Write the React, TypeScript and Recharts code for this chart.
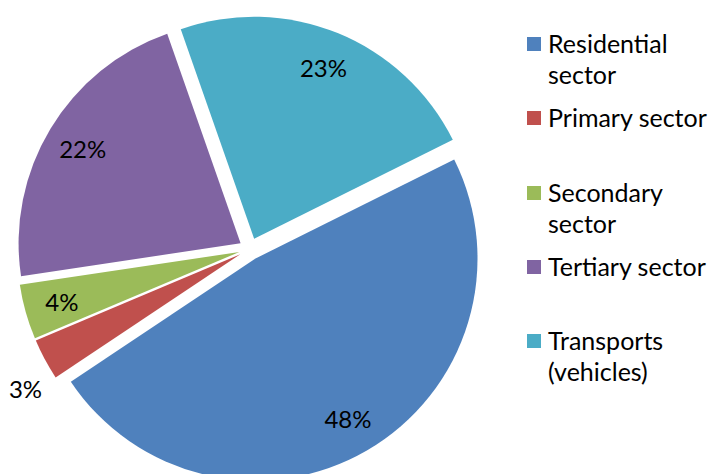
import React from "react";
import { PieChart, Pie, Cell, Sector, Legend } from "recharts";

const SECTORS = [
  "Residential sector",
  "Primary sector",
  "Secondary sector",
  "Tertiary sector",
  "Transports (vehicles)",
];
const SHARES = [48, 3, 4, 22, 23];
const COLORS = ["#4F81BD", "#C0504D", "#9BBB59", "#8064A2", "#4BACC6"];

const RADIAN = Math.PI / 180;
const EXPLODE = 11;
const FONT = "Lato, 'Open Sans', sans-serif";

const data = SECTORS.map((name, i) => ({ name, value: SHARES[i] }));

/** Exploded sector: shift each slice outward along its mid angle. */
function ExplodedSector(props: any) {
  const { cx, cy, midAngle } = props;
  const dx = EXPLODE * Math.cos(-midAngle * RADIAN);
  const dy = EXPLODE * Math.sin(-midAngle * RADIAN);
  return <Sector {...props} cx={cx + dx} cy={cy + dy} stroke="none" />;
}

function renderLabel(props: any) {
  const { cx, cy, midAngle, outerRadius, percent } = props;
  // small slices get their label outside the pie, like Excel's best fit
  const outside = percent < 0.035;
  const r = outside ? outerRadius * 1.19 : outerRadius * 0.88;
  const a = (outside ? midAngle + 3.5 : midAngle) * RADIAN;
  const x = cx + r * Math.cos(-a);
  const y = cy + r * Math.sin(-a);
  return (
    <text
      x={x}
      y={y}
      fill="#000"
      fontSize={24}
      fontFamily={FONT}
      textAnchor="middle"
      dominantBaseline="central"
    >
      {`${Math.round(percent * 100)}%`}
    </text>
  );
}

function LegendContent() {
  return (
    <div style={{ fontFamily: FONT, fontSize: 25, lineHeight: "31px", color: "#000" }}>
      {SECTORS.map((name, i) => (
        <div key={name} style={{ position: "relative", height: 74.3 }}>
          <span
            style={{
              position: "absolute",
              left: 0,
              top: 9,
              width: 14,
              height: 14,
              background: COLORS[i],
            }}
          />
          <div style={{ position: "absolute", left: 21, top: 0, width: 162 }}>{name}</div>
        </div>
      ))}
    </div>
  );
}

export default function App() {
  return (
    <div style={{ position: "absolute", left: 0, top: 0, background: "#fff" }}>
      <PieChart width={708} height={474} margin={{ top: 0, right: 0, bottom: 0, left: 0 }}>
        <Pie
          data={data}
          dataKey="value"
          nameKey="name"
          cx={250}
          cy={249}
          outerRadius={222}
          startAngle={26.5}
          endAngle={-333.5}
          stroke="none"
          label={renderLabel}
          labelLine={false}
          shape={ExplodedSector}
          activeShape={ExplodedSector}
          inactiveShape={ExplodedSector}
          isAnimationActive={false}
        >
          {data.map((d, i) => (
            <Cell key={d.name} fill={COLORS[i]} />
          ))}
        </Pie>
        <Legend
          layout="vertical"
          align="right"
          verticalAlign="top"
          content={LegendContent}
          wrapperStyle={{ left: 527, top: 28, width: 181 }}
        />
      </PieChart>
    </div>
  );
}
